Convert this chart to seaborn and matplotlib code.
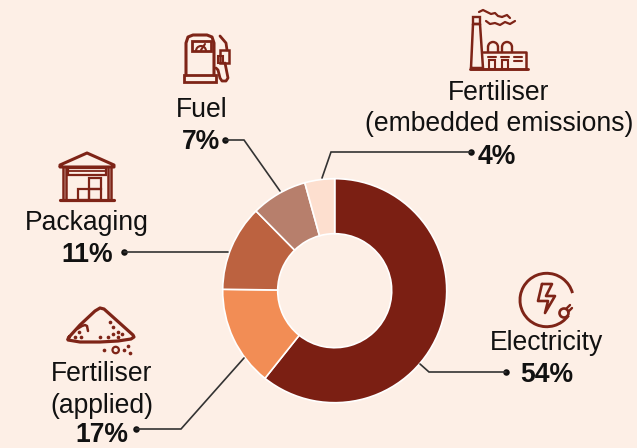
import numpy as np
import pandas as pd
import matplotlib
matplotlib.use('Agg')
import matplotlib.pyplot as plt
import seaborn as sns
from matplotlib.patches import Arc, Circle, Rectangle

# slice shares as drawn (the printed percentages don't add up to the arc sizes)
categories = ['Electricity', 'Fertiliser (applied)', 'Packaging', 'Fuel', 'Fertiliser (embedded emissions)']
drawn_share = [60.7, 14.5, 12.4, 8.1, 4.3]
printed_pct = ['54%', '17%', '11%', '7%', '4%']
slice_colors = ['#7B1F13', '#F28D55', '#BC6240', '#B77F6C', '#FDDFCF']

BG = '#FDEFE6'
ICON = '#7E2417'
LINE = '#333333'

sns.set_theme(style='white', rc={'figure.facecolor': BG, 'axes.facecolor': BG})
plt.rcParams['font.family'] = ['Liberation Sans', 'DejaVu Sans']

fig = plt.figure(figsize=(6.37, 4.48), dpi=100)

# donut
R = 112
cx, cy = 334.7, 290.7
ax = fig.add_axes([(cx - R) / 637, 1 - (cy + R) / 448, 2 * R / 637, 2 * R / 448])
ax.pie(drawn_share, colors=sns.color_palette(slice_colors), startangle=90, counterclock=False,
       radius=1, wedgeprops=dict(width=(R - 57) / R, edgecolor='white', linewidth=1.2))
ax.set_xlim(-1, 1)
ax.set_ylim(-1, 1)
ax.set_aspect('equal')
ax.axis('off')

# overlay in pixel coords for labels, leaders and icons
ov = fig.add_axes([0, 0, 1, 1])
ov.patch.set_alpha(0)

FS = 19.1


def label(x, y, s, bold=False):
    ov.text(x, y + 2, s, ha='center', va='center', fontsize=FS, color='#111111',
            fontweight='bold' if bold else 'normal')


label(547, 341, 'Electricity')
label(547, 373, printed_pct[0], True)
label(102, 372, 'Fertiliser')
label(102, 404, '(applied)')
label(102, 433, printed_pct[1], True)
label(87, 221, 'Packaging')
label(87, 253, printed_pct[2], True)
label(202, 108, 'Fuel')
label(201, 140, printed_pct[3], True)
label(499, 91, 'Fertiliser')
label(499, 122, '(embedded emissions)')
label(497, 155, printed_pct[4], True)

# leader lines, each ends in a small dot
leaders = pd.DataFrame({
    'name': categories,
    'xs': [[506, 429, 420], [136, 181, 244], [124, 228], [225, 244, 280], [471, 331, 322]],
    'ys': [[372, 372, 364], [429, 429, 358], [252, 252], [140, 140, 191], [152, 152, 178]],
})
for _, row in leaders.iterrows():
    ov.plot(row['xs'], row['ys'], color=LINE, lw=1.2, solid_joinstyle='miter')
dots = pd.DataFrame({'x': [r[0] for r in leaders['xs']], 'y': [r[0] for r in leaders['ys']]})
sns.scatterplot(data=dots, x='x', y='y', ax=ov, color='#111111', s=22, linewidth=0, legend=False)
ov.set_xlim(0, 637)
ov.set_ylim(448, 0)
ov.axis('off')


def pl(xs, ys, lw=2.0):
    ov.plot(xs, ys, color=ICON, lw=lw, solid_capstyle='round', solid_joinstyle='round')


def box(x, y, w, h, lw=1.8):
    ov.add_patch(Rectangle((x, y), w, h, fill=False, ec=ICON, lw=lw))


def arc(x, y, r, a1, a2, lw=1.9):
    ov.add_patch(Arc((x, y), 2 * r, 2 * r, theta1=a1, theta2=a2, ec=ICON, lw=lw))


# fuel pump
pl([186, 186, 188, 193, 207, 212, 214, 214], [75, 43, 37, 35, 35, 37, 43, 75], 2.2)
box(192, 41, 19, 10, 2)
arc(201, 51, 5, 180, 360, 1.5)
pl([201, 205], [50, 44], 1.5)
box(184, 75, 32, 7, 2)
pl([220, 226, 227], [36, 43, 50])
box(220, 50, 9, 13)
box(218, 56, 5, 7, 1.5)
pl([225, 228, 226, 222, 220, 218, 216], [63, 78, 81, 81, 78, 70, 68])

# factory
pl([471, 473, 480, 483, 471], [68, 24, 24, 68, 68], 1.8)
box(473, 17, 7, 7, 1.7)
pl([483, 526, 526], [52, 52, 69], 1.8)
pl([470, 528], [69, 69], 2.1)
arc(493, 47, 5, 180, 360, 1.7)
arc(507, 47, 5, 180, 360, 1.7)
pl([488, 488], [47, 52], 1.7)
pl([498, 498], [47, 52], 1.7)
pl([502, 502], [47, 52], 1.7)
pl([512, 512], [47, 52], 1.7)
box(489, 60, 6, 9, 1.5)
box(502, 60, 6, 9, 1.5)
pl([488, 496], [57, 57], 1.5)
pl([501, 509], [57, 57], 1.5)
pl([514, 522], [57, 57], 1.5)
pl([514, 522], [61, 61], 1.5)
pl([479, 483, 487, 491, 495, 498, 502], [12, 10, 12, 14, 13, 16, 17], 1.6)
pl([486, 490, 495, 500, 505, 510, 515], [21, 24, 23, 25, 22, 24, 21], 1.6)
pl([502, 507, 510], [17, 15, 18], 1.6)

# warehouse
pl([60, 60, 87, 114, 114, 60], [166, 165, 153, 165, 167, 167], 2.2)
pl([63, 63], [167, 200], 1.8)
pl([66, 66], [167, 200], 1.8)
pl([108, 108], [167, 200], 1.8)
pl([111, 111], [167, 200], 1.8)
pl([60, 114], [200, 200], 2.3)
box(68, 168, 38, 7, 1.6)
pl([68, 106], [171.5, 171.5], 1.3)
box(78, 189, 11, 11, 1.6)
box(89, 189, 12, 11, 1.6)
box(89, 178, 12, 11, 1.6)

# sand pile
pl([69, 68, 70, 80, 95, 100, 104, 133, 134, 131, 118, 100, 80, 68],
   [337, 339, 336, 325, 311, 308, 309, 335, 337, 339, 341, 342, 342, 340], 2.3)
pl([77, 82, 85, 87, 88], [329, 326, 325, 326, 331], 1.8)
pile_x = [110, 113, 118, 113, 122, 100, 108, 118, 79, 75, 81, 128, 104, 124, 130]
pile_y = [322, 327, 332, 334, 334, 337, 337, 337, 332, 337, 337, 346, 350, 350, 353]
ov.scatter(pile_x, pile_y, s=7, color=ICON, linewidths=0)
ov.add_patch(Circle((115.7, 350), 3.2, fill=False, ec=ICON, lw=1.6))

# electricity
arc(546.7, 300, 26.7, 35, 345, 2.1)
pl([542, 552, 546, 555, 545, 548, 538, 542], [284, 284, 296, 296, 313, 301, 301, 284], 1.9)
ov.add_patch(Circle((564, 313), 4.5, fill=False, ec=ICON, lw=1.9))
pl([566, 570], [309, 305], 1.7)
pl([568, 572], [312, 308], 1.7)

fig.savefig('out.png', dpi=100, facecolor=BG)
